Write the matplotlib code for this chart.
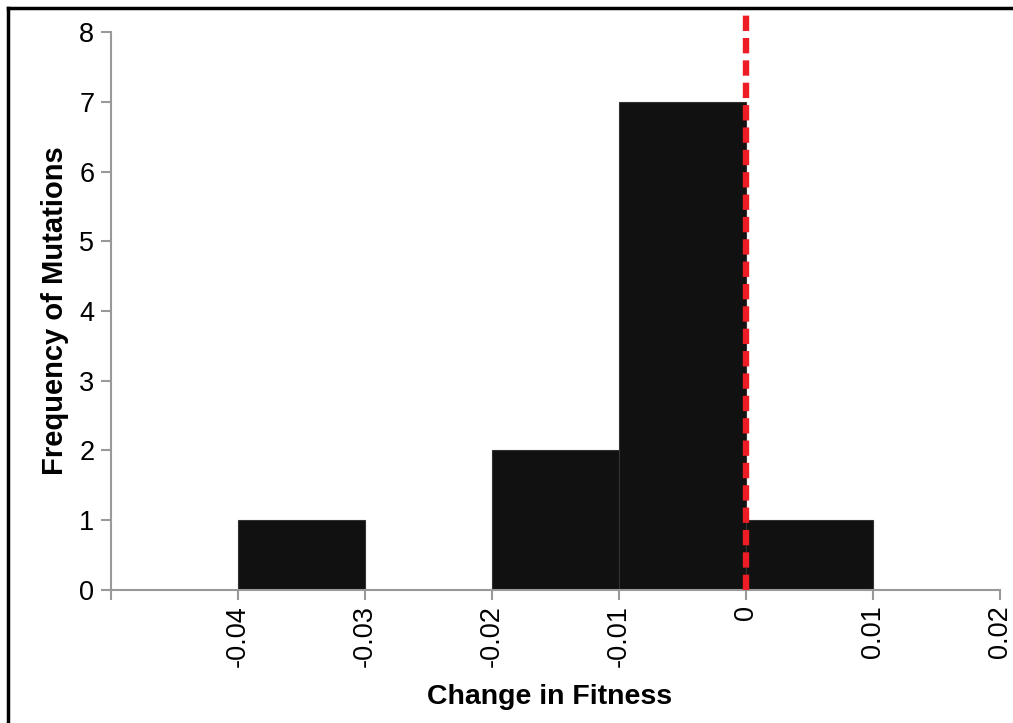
import matplotlib.pyplot as plt
from matplotlib.lines import Line2D

plt.rcParams['font.family'] = ['Liberation Sans', 'DejaVu Sans']

# histogram bins (left edges) and counts
bin_left = [-0.04, -0.02, -0.01, 0.0]
bin_width = 0.01
counts = [1, 2, 7, 1]

xticks = [-0.05, -0.04, -0.03, -0.02, -0.01, 0, 0.01, 0.02]
xticklabels = ['', '-0.04', '-0.03', '-0.02', '-0.01', '0', '0.01', '0.02']
yticks = [0, 1, 2, 3, 4, 5, 6, 7, 8]
ref_x = 0.0
ref_top = 8.27

fig = plt.figure(figsize=(10.13, 7.23), dpi=100)
ax = fig.add_axes([0.1096, 0.184, 0.8776, 0.7717])

ax.bar(bin_left, counts, width=bin_width, align='edge', color='#111111',
       edgecolor='#333333', linewidth=0.8, zorder=2)
ax.plot([ref_x, ref_x], [0, ref_top], color='#ee1c25', linewidth=4.6,
        linestyle=(0, (2.4, 1.1)), clip_on=False, zorder=3)

ax.set_xlim(-0.05, 0.02)
ax.set_ylim(0, 8)
ax.set_xticks(xticks)
ax.set_xticklabels(xticklabels, rotation=90)
ax.set_yticks(yticks)

for s in ['top', 'right']:
    ax.spines[s].set_visible(False)
for s in ['left', 'bottom']:
    ax.spines[s].set_color('#999999')
    ax.spines[s].set_linewidth(1.5)
ax.tick_params(axis='both', colors='#999999', width=1.5, length=7,
               labelsize=19.5, labelcolor='black')
ax.tick_params(axis='x', pad=4)
ax.tick_params(axis='y', pad=5)

ax.set_xlabel('Change in Fitness', fontsize=20.5, fontweight='bold')
ax.xaxis.set_label_coords(0.4935, -0.168)
ax.set_ylabel('Frequency of Mutations', fontsize=21, fontweight='bold', labelpad=7)

# black frame along top and left edges of the figure
fig.add_artist(Line2D([0.0075, 1.0], [0.9885, 0.9885], color='black', linewidth=2.5,
                      transform=fig.transFigure))
fig.add_artist(Line2D([0.0075, 0.0075], [0.0, 0.9885], color='black', linewidth=2.5,
                      transform=fig.transFigure))

fig.savefig('out.png', dpi=100)
